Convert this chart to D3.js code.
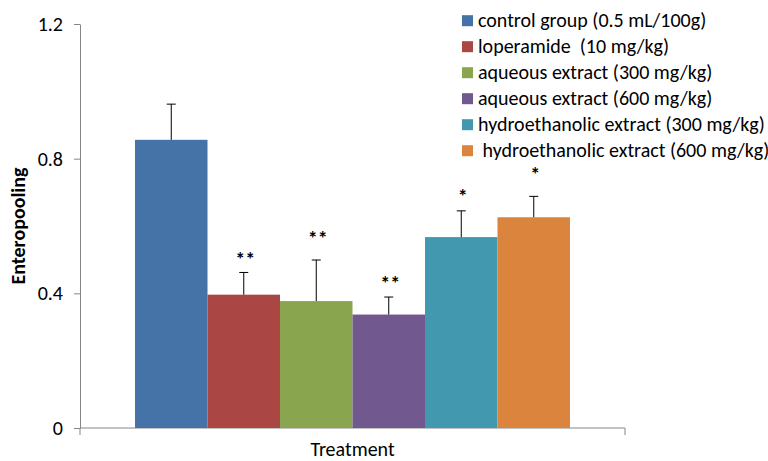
<!DOCTYPE html>
<html>
<head>
<meta charset="utf-8">
<script src="https://cdn.jsdelivr.net/npm/d3@7"></script>
<style>
  body { margin: 0; background: #ffffff; }
  text { font-family: Carlito, Lato, sans-serif; fill: #000; }
</style>
</head>
<body>
<div id="chart"></div>
<script>
// data
const groups = [
    "control group (0.5 mL/100g)",
    "loperamide  (10 mg/kg)",
    "aqueous extract (300 mg/kg)",
    "aqueous extract (600 mg/kg)",
    "hydroethanolic extract (300 mg/kg)",
    " hydroethanolic extract (600 mg/kg)"
];
const means = [0.856, 0.396, 0.377, 0.337, 0.567, 0.626];
const errors = [0.106, 0.066, 0.122, 0.052, 0.078, 0.062];
const stars = ["", "**", "**", "**", "*", "*"];
const starLevels = [0, 0.516, 0.579, 0.447, 0.705, 0.770];
const colors = ["#4572A7", "#AA4643", "#89A54E", "#71588F", "#4198AF", "#DB843D"];
const yTicks = [0, 0.4, 0.8, 1.2];

const w = 768, h = 461;
const margin = { top: 24, right: 143, bottom: 33, left: 80 };
const fontSize = "20px";

const svg = d3.select("#chart")
    .append("svg")
    .attr("width", w)
    .attr("height", h);

const y = d3.scaleLinear()
    .domain([0, 1.2])
    .range([h - margin.bottom, margin.top]);

// single category, six series side by side
const x = d3.scaleBand()
    .domain(groups)
    .range([135, 570]);

const axisColor = "#868686";

// y axis
const yAxis = svg.append("g")
    .attr("transform", `translate(${margin.left},0)`)
    .call(d3.axisLeft(y).tickValues(yTicks).tickFormat(d => d === 0 ? "0" : d3.format(".1f")(d)).tickSize(6).tickSizeOuter(0).tickPadding(11));
yAxis.select(".domain").attr("stroke", axisColor);
yAxis.selectAll(".tick line").attr("stroke", axisColor);
yAxis.selectAll(".tick text").style("font-size", fontSize).attr("fill", "#000");

// x axis line with end tick marks
const x0 = margin.left, x1 = w - margin.right, yb = y(0);
svg.append("line")
    .attr("x1", x0).attr("x2", x1).attr("y1", yb).attr("y2", yb)
    .attr("stroke", axisColor);
svg.selectAll(".xtick")
    .data([x0, x1])
    .enter().append("line")
    .attr("x1", d => d).attr("x2", d => d)
    .attr("y1", yb).attr("y2", yb + 7)
    .attr("stroke", axisColor);

// bars
svg.selectAll(".bar")
    .data(groups)
    .enter().append("rect")
    .attr("class", "bar")
    .attr("x", d => x(d))
    .attr("width", x.bandwidth())
    .attr("y", (d, i) => y(means[i]))
    .attr("height", (d, i) => y(0) - y(means[i]))
    .attr("fill", (d, i) => colors[i]);

// error bars (upper only)
const cx = d => x(d) + x.bandwidth() / 2;
svg.selectAll(".err")
    .data(groups)
    .enter().append("line")
    .attr("x1", cx).attr("x2", cx)
    .attr("y1", (d, i) => y(means[i]))
    .attr("y2", (d, i) => y(means[i] + errors[i]))
    .attr("stroke", "#000").attr("stroke-width", 1);
svg.selectAll(".cap")
    .data(groups)
    .enter().append("line")
    .attr("x1", d => cx(d) - 4.5).attr("x2", d => cx(d) + 4.5)
    .attr("y1", (d, i) => y(means[i] + errors[i]))
    .attr("y2", (d, i) => y(means[i] + errors[i]))
    .attr("stroke", "#000").attr("stroke-width", 1);

// significance stars
svg.selectAll(".star")
    .data(groups)
    .enter().append("text")
    .attr("text-anchor", "middle")
    .attr("x", d => cx(d) + 1.5)
    .attr("y", (d, i) => y(starLevels[i]) + 12)
    .style("font-size", fontSize)
    .style("font-weight", "bold")
    .text((d, i) => stars[i]);

// axis titles
svg.append("text")
    .attr("text-anchor", "middle")
    .attr("transform", `translate(25,${(margin.top + yb) / 2}) rotate(-90)`)
    .style("font-size", fontSize)
    .style("font-weight", "bold")
    .text("Enteropooling");

svg.append("text")
    .attr("text-anchor", "middle")
    .attr("x", (x0 + x1) / 2)
    .attr("y", 456)
    .style("font-size", fontSize)
    .text("Treatment");

// legend
const legend = svg.selectAll(".legend")
    .data(groups)
    .enter().append("g")
    .attr("transform", (d, i) => `translate(462,${20.7 + i * 26})`);
legend.append("rect")
    .attr("x", 0).attr("y", -5.5)
    .attr("width", 11).attr("height", 11)
    .attr("fill", (d, i) => colors[i]);
legend.append("text")
    .attr("x", 16)
    .attr("y", 6.5)
    .style("font-size", fontSize)
    .style("white-space", "pre")
    .attr("xml:space", "preserve")
    .text(d => d);
</script>
</body>
</html>
